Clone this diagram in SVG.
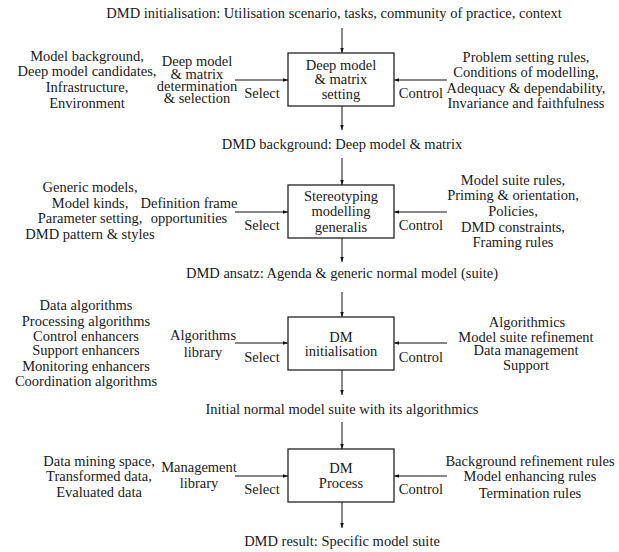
<svg xmlns="http://www.w3.org/2000/svg" width="619" height="552" viewBox="0 0 619 552">
  <style>
    .box { fill: #fff; stroke: #222; stroke-width: 1.3; }
    .wire { fill: none; stroke: #111; stroke-width: 1; marker-end: url(#tip); }
  </style>
  <defs>
    <marker id="tip" viewBox="0 0 10 10" refX="10" refY="5" markerWidth="5" markerHeight="5" orient="auto" markerUnits="userSpaceOnUse">
      <path d="M0,1.5 L10,5 L0,8.5 Z" fill="#111"/>
    </marker>
  </defs>
  <rect width="619" height="552" fill="#fff"/>

  <!-- connectors -->
  <g id="connectors">
    <path class="wire" d="M342,28 V53"/>
    <path class="wire" d="M342,106 V130"/>
    <path class="wire" d="M342,158 V185"/>
    <path class="wire" d="M342,238 V262"/>
    <path class="wire" d="M342,292 V317"/>
    <path class="wire" d="M342,370 V395"/>
    <path class="wire" d="M342,422 V449"/>
    <path class="wire" d="M342,502 V528"/>
    <path class="wire" d="M235,80 H288"/>
    <path class="wire" d="M447,80 H394"/>
    <path class="wire" d="M235,212 H288"/>
    <path class="wire" d="M447,212 H394"/>
    <path class="wire" d="M235,343 H288"/>
    <path class="wire" d="M447,343 H394"/>
    <path class="wire" d="M235,476 H288"/>
    <path class="wire" d="M447,476 H394"/>
  </g>

  <g font-family="'Liberation Serif', 'DejaVu Serif', serif" font-size="14.5" fill="#1a1a1a" text-anchor="middle">
  <!-- flow results between stages -->
  <g id="flow-labels">
    <text x="334" y="18">DMD initialisation: Utilisation scenario, tasks, community of practice, context</text>
    <text x="342" y="149">DMD background: Deep model &amp; matrix</text>
    <text x="342" y="278">DMD ansatz: Agenda &amp; generic normal model (suite)</text>
    <text x="342" y="414">Initial normal model suite with its algorithmics</text>
    <text x="342" y="546">DMD result: Specific model suite</text>
  </g>

  <!-- stage 1 -->
  <g id="deep-model-setting">
    <rect class="box" x="288" y="53" width="106" height="53"/>
    <text x="341" y="69.5">Deep model</text>
    <text x="341" y="84">&amp; matrix</text>
    <text x="341" y="98.5">setting</text>
  </g>
  <g id="stage1-inputs">
    <text x="87" y="60.5">Model background,</text>
    <text x="87" y="76">Deep model candidates,</text>
    <text x="87" y="92">Infrastructure,</text>
    <text x="87" y="107.5">Environment</text>
    <text x="197" y="66">Deep model</text>
    <text x="197" y="78.5">&amp; matrix</text>
    <text x="197" y="91">determination</text>
    <text x="197" y="103">&amp; selection</text>
    <text x="262" y="97.5">Select</text>
  </g>
  <g id="stage1-controls">
    <text x="421" y="97.5">Control</text>
    <text x="526" y="61.5">Problem setting rules,</text>
    <text x="526" y="76.5">Conditions of modelling,</text>
    <text x="526" y="92.5">Adequacy &amp; dependability,</text>
    <text x="526" y="107.5">Invariance and faithfulness</text>
  </g>

  <!-- stage 2 -->
  <g id="stereotyping">
    <rect class="box" x="288" y="185" width="106" height="53"/>
    <text x="341" y="200.5">Stereotyping</text>
    <text x="341" y="216">modelling</text>
    <text x="341" y="231.5">generalis</text>
  </g>
  <g id="stage2-inputs">
    <text x="90" y="191.5">Generic models,</text>
    <text x="90" y="207.5">Model kinds,</text>
    <text x="90" y="222.5">Parameter setting,</text>
    <text x="90" y="238.5">DMD pattern &amp; styles</text>
    <text x="189" y="207.5">Definition frame</text>
    <text x="189" y="222.5">opportunities</text>
    <text x="262" y="229.5">Select</text>
  </g>
  <g id="stage2-controls">
    <text x="421" y="229.5">Control</text>
    <text x="513" y="184.5">Model suite rules,</text>
    <text x="513" y="199.5">Priming &amp; orientation,</text>
    <text x="513" y="215.5">Policies,</text>
    <text x="513" y="231.5">DMD constraints,</text>
    <text x="513" y="246.5">Framing rules</text>
  </g>

  <!-- stage 3 -->
  <g id="dm-initialisation">
    <rect class="box" x="288" y="317" width="106" height="53"/>
    <text x="341" y="341.5">DM</text>
    <text x="341" y="355.5">initialisation</text>
  </g>
  <g id="stage3-inputs">
    <text x="86" y="309.5">Data algorithms</text>
    <text x="86" y="325.5">Processing algorithms</text>
    <text x="86" y="340.5">Control enhancers</text>
    <text x="86" y="354.5">Support enhancers</text>
    <text x="86" y="370.5">Monitoring enhancers</text>
    <text x="86" y="385.5">Coordination algorithms</text>
    <text x="203" y="339.5">Algorithms</text>
    <text x="203" y="356.5">library</text>
    <text x="262" y="361.5">Select</text>
  </g>
  <g id="stage3-controls">
    <text x="421" y="361.5">Control</text>
    <text x="527" y="326.5">Algorithmics</text>
    <text x="526" y="341.5">Model suite refinement</text>
    <text x="526" y="354.5">Data management</text>
    <text x="526" y="369.5">Support</text>
  </g>

  <!-- stage 4 -->
  <g id="dm-process">
    <rect class="box" x="288" y="449" width="106" height="53"/>
    <text x="341" y="472.5">DM</text>
    <text x="341" y="487.5">Process</text>
  </g>
  <g id="stage4-inputs">
    <text x="99" y="465.5">Data mining space,</text>
    <text x="99" y="480.5">Transformed data,</text>
    <text x="99" y="496.5">Evaluated data</text>
    <text x="199" y="471.5">Management</text>
    <text x="199" y="487.5">library</text>
    <text x="262" y="493.5">Select</text>
  </g>
  <g id="stage4-controls">
    <text x="421" y="493.5">Control</text>
    <text x="530" y="465.5">Background refinement rules</text>
    <text x="530" y="480.5">Model enhancing rules</text>
    <text x="530" y="497.5">Termination rules</text>
  </g>
  </g>
</svg>
